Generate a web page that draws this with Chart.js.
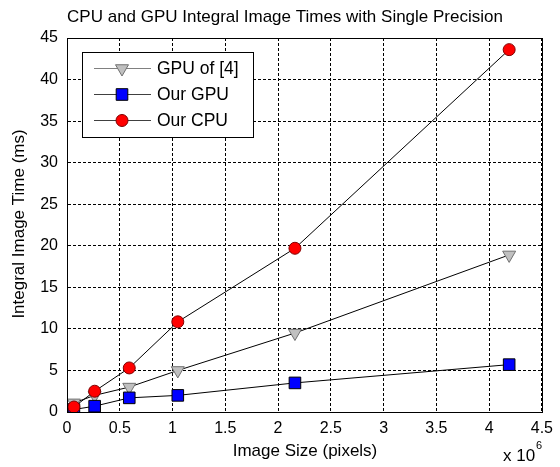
<!DOCTYPE html>
<html>
<head>
<meta charset="utf-8">
<script src="https://cdn.jsdelivr.net/npm/chart.js@4/dist/chart.umd.min.js"></script>
<style>
  html, body { margin: 0; padding: 0; background: #fff; }
  #wrap { width: 560px; height: 467px; }
</style>
</head>
<body>
<div id="wrap"><canvas id="chart" width="560" height="467"></canvas></div>
<script>
// image sizes in millions of pixels
const imageSizes = [0.0655, 0.262, 0.59, 1.05, 2.16, 4.19];
const gpuRef = [1.1, 2.0, 3.0, 5.0, 9.5, 18.9];
const ourGpu = [0.3, 0.7, 1.7, 2.0, 3.5, 5.7];
const ourCpu = [0.6, 2.5, 5.3, 10.85, 19.7, 43.6];
const seriesNames = ['GPU of [4]', 'Our GPU', 'Our CPU'];
const xTicks = [0, 0.5, 1, 1.5, 2, 2.5, 3, 3.5, 4, 4.5];
const yTicks = [0, 5, 10, 15, 20, 25, 30, 35, 40, 45];

const FONT = 'Liberation Sans, Arial, sans-serif';

function pts(ys) {
  return imageSizes.map((x, i) => ({ x: x, y: ys[i] }));
}

const styles = [
  { pointStyle: 'triangle', rotation: 180, bg: '#c0c0c0', border: '#707070', radius: 7.5 },
  { pointStyle: 'rect', rotation: 0, bg: '#0000ff', border: '#000000', radius: 8.2 },
  { pointStyle: 'circle', rotation: 0, bg: '#ff0000', border: '#800000', radius: 6 },
];

const datasets = [gpuRef, ourGpu, ourCpu].map((ys, i) => ({
  label: seriesNames[i],
  data: pts(ys),
  showLine: true,
  borderColor: '#000',
  borderWidth: 1,
  pointStyle: styles[i].pointStyle,
  rotation: styles[i].rotation,
  pointRadius: styles[i].radius,
  pointBackgroundColor: styles[i].bg,
  pointBorderColor: styles[i].border,
  pointBorderWidth: 1,
  order: 3 - i,
}));

// text, frame and legend drawn MATLAB style
const decor = {
  id: 'decor',
  afterDraw(chart) {
    const ctx = chart.ctx;
    const a = chart.chartArea;
    ctx.save();
    ctx.strokeStyle = '#000';
    ctx.lineWidth = 1;
    ctx.strokeRect(Math.round(a.left) + 0.5, Math.round(a.top) + 0.5,
      Math.round(a.right - a.left), Math.round(a.bottom - a.top));

    ctx.fillStyle = '#000';
    ctx.font = '17px ' + FONT;
    ctx.textAlign = 'center';
    ctx.textBaseline = 'middle';
    ctx.fillText('CPU and GPU Integral Image Times with Single Precision', 285, 17);
    ctx.fillText('Image Size (pixels)', 305, 451);
    ctx.save();
    ctx.translate(19, 224);
    ctx.rotate(-Math.PI / 2);
    ctx.fillText('Integral Image Time (ms)', 0, 0);
    ctx.restore();

    ctx.textAlign = 'left';
    ctx.fillText('x 10', 503, 456);
    ctx.font = '11px ' + FONT;
    ctx.fillText('6', 536, 446);

    // legend box
    const lx = 82, ly = 52, lw = 171, lh = 85;
    ctx.fillStyle = '#fff';
    ctx.fillRect(lx, ly, lw, lh);
    ctx.strokeRect(lx + 0.5, ly + 0.5, lw, lh);
    ctx.font = '17.5px ' + FONT;
    ctx.textBaseline = 'middle';
    const rows = [68, 94, 120];
    datasets.forEach((ds, i) => {
      const y = rows[i] + 0.5;
      ctx.strokeStyle = i === 0 ? '#808080' : '#404040';
      ctx.beginPath();
      ctx.moveTo(94, y);
      ctx.lineTo(151, y);
      ctx.stroke();
      ctx.fillStyle = ds.pointBackgroundColor;
      ctx.strokeStyle = ds.pointBorderColor;
      Chart.helpers.drawPoint(ctx, {
        pointStyle: ds.pointStyle,
        rotation: ds.rotation,
        radius: ds.pointRadius,
        borderWidth: 1,
      }, 122, y);
      ctx.fillStyle = '#000';
      ctx.fillText(ds.label, 157, rows[i] + 1);
    });
    ctx.restore();
  }
};

new Chart(document.getElementById('chart'), {
  type: 'scatter',
  data: { datasets: datasets },
  options: {
    responsive: false,
    animation: false,
    layout: { padding: { left: 0, top: 38, right: 14, bottom: 0 } },
    plugins: {
      legend: { display: false },
      tooltip: { enabled: false },
    },
    scales: {
      x: {
        type: 'linear',
        min: 0,
        max: 4.5,
        afterFit(scale) { scale.height = 55; },
        afterBuildTicks(scale) { scale.ticks = xTicks.map(v => ({ value: v })); },
        grid: { color: '#000', drawTicks: false, tickLength: 0 },
        border: { display: true, color: '#000', dash: [3, 2] },
        ticks: {
          color: '#000',
          font: { family: FONT, size: 16 },
          padding: 7,
          maxRotation: 0,
          callback: v => String(v),
        },
      },
      y: {
        type: 'linear',
        min: 0,
        max: 45,
        afterFit(scale) { scale.width = 67; },
        afterBuildTicks(scale) { scale.ticks = yTicks.map(v => ({ value: v })); },
        grid: { color: '#000', drawTicks: false, tickLength: 0 },
        border: { display: true, color: '#000', dash: [3, 2] },
        ticks: {
          color: '#000',
          font: { family: FONT, size: 16 },
          padding: 9,
          callback: v => String(v),
        },
      },
    },
  },
  plugins: [decor],
});
</script>
</body>
</html>
